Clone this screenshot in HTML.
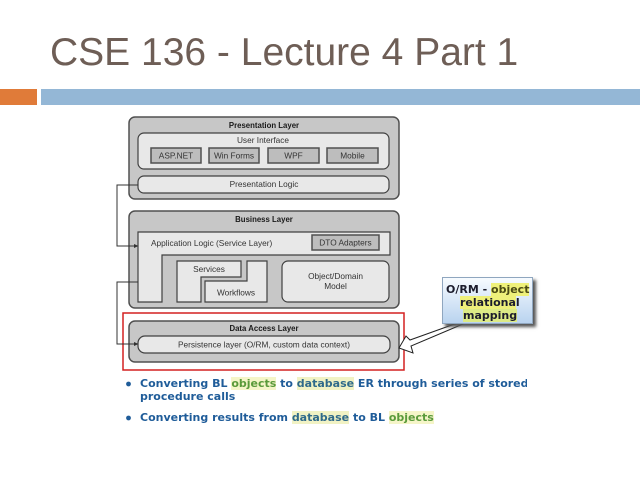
<!DOCTYPE html>
<html><head><meta charset="utf-8"><style>
html,body{margin:0;padding:0;background:#fff;}
#wrap{position:relative;width:640px;height:480px;overflow:hidden;background:#fff;}
svg{position:absolute;left:0;top:0;}
.bl{position:absolute;left:140px;font-family:"DejaVu Sans","Liberation Sans",sans-serif;font-weight:bold;font-size:11px;line-height:12px;color:#1f5c99;white-space:nowrap;}
.ob{color:#5a9a3a;background:#f5f5c8;}
.db{color:#2f6a8a;background:#f1f2c4;}
#call{position:absolute;left:442px;top:277px;width:89px;height:45px;border:1px solid #8fa6bf;background:linear-gradient(to bottom,#f7fbff 0%,#dbe9f8 45%,#b9d3ef 100%);box-shadow:3px 3px 3px #555;overflow:hidden;}
#call div{position:absolute;font-family:"DejaVu Sans","Liberation Sans",sans-serif;font-weight:bold;font-size:11px;line-height:12px;color:#1c1c2c;white-space:nowrap;}
.hl{background:#eef07a;}
</style></head><body><div id="wrap">
<svg width="640" height="480" viewBox="0 0 640 480" xmlns="http://www.w3.org/2000/svg">
<text x="50" y="65" font-family="Liberation Sans, sans-serif" font-size="39" fill="#6e5e56">CSE 136 - Lecture 4 Part 1</text>
<rect x="0" y="89" width="37" height="16" fill="#e07b39"/>
<rect x="41" y="89" width="599" height="16" fill="#94b7d6"/>

<g font-family="Liberation Sans, sans-serif" font-size="8.3" fill="#333" text-anchor="middle">
<!-- Presentation layer -->
<rect x="129" y="117" width="270" height="82" rx="6" fill="#c7c7c7" stroke="#505050" stroke-width="1.5"/>
<text x="264" y="128" font-weight="bold" font-size="7.8" fill="#1a1a1a">Presentation Layer</text>
<rect x="138" y="133" width="251" height="36" rx="6" fill="#e8e8e8" stroke="#404040" stroke-width="1.2"/>
<text x="263" y="143">User Interface</text>
<rect x="151" y="148" width="50" height="15" fill="#bdbdbd" stroke="#505050" stroke-width="1.5"/>
<text x="176" y="158.5">ASP.NET</text>
<rect x="209" y="148" width="50" height="15" fill="#bdbdbd" stroke="#505050" stroke-width="1.5"/>
<text x="234" y="158.5">Win Forms</text>
<rect x="268" y="148" width="51" height="15" fill="#bdbdbd" stroke="#505050" stroke-width="1.5"/>
<text x="293.5" y="158.5">WPF</text>
<rect x="327" y="148" width="51" height="15" fill="#bdbdbd" stroke="#505050" stroke-width="1.5"/>
<text x="352.5" y="158.5">Mobile</text>
<rect x="138" y="176" width="251" height="17" rx="6" fill="#e8e8e8" stroke="#404040" stroke-width="1.2"/>
<text x="264" y="187">Presentation Logic</text>

<!-- Business layer -->
<rect x="129" y="211" width="270" height="97" rx="6" fill="#c7c7c7" stroke="#505050" stroke-width="1.5"/>
<text x="264" y="222" font-weight="bold" font-size="7.8" fill="#1a1a1a">Business Layer</text>
<path d="M138,232 H390 V255 H162 V302 H138 Z" fill="#e8e8e8" stroke="#404040" stroke-width="1.2"/>
<text x="151" y="246" text-anchor="start">Application Logic (Service Layer)</text>
<rect x="312" y="235" width="67" height="15" fill="#bdbdbd" stroke="#505050" stroke-width="1.5"/>
<text x="345.5" y="245.5">DTO Adapters</text>
<path d="M177,261 H241 V277 H201 V302 H177 Z" fill="#e8e8e8" stroke="#404040" stroke-width="1.2"/>
<text x="209" y="272">Services</text>
<path d="M247,261 H267 V302 H205 V281 H247 Z" fill="#e8e8e8" stroke="#404040" stroke-width="1.2"/>
<text x="236" y="295.5">Workflows</text>
<rect x="282" y="261" width="107" height="41" rx="6" fill="#e8e8e8" stroke="#404040" stroke-width="1.2"/>
<text x="335.5" y="279">Object/Domain</text>
<text x="335.5" y="289">Model</text>

<!-- Data access layer -->
<rect x="123" y="313" width="281" height="57" fill="none" stroke="#d42020" stroke-width="1.5"/>
<rect x="129" y="321" width="270" height="41" rx="6" fill="#c7c7c7" stroke="#505050" stroke-width="1.5"/>
<text x="264" y="331" font-weight="bold" font-size="7.8" fill="#1a1a1a">Data Access Layer</text>
<rect x="138" y="336" width="252" height="17" rx="7" fill="#e8e8e8" stroke="#404040" stroke-width="1.2"/>
<text x="264" y="347.5">Persistence layer (O/RM, custom data context)</text>
</g>

<!-- connectors -->
<path d="M138,185 H117 V246 H135" fill="none" stroke="#333" stroke-width="1"/>
<polygon points="134,244 138.5,246 134,248" fill="#333"/>
<path d="M138,282 H117 V344 H135" fill="none" stroke="#333" stroke-width="1"/>
<polygon points="134,342 138.5,344 134,346" fill="#333"/>

<!-- callout arrow -->
<polygon points="463,321 410,340 406,336 399,348 413,353 411,346 463,324" fill="#fff" stroke="#222" stroke-width="1"/>

<!-- bullets -->
<circle cx="128.5" cy="384" r="2.4" fill="#1f5c99"/>
<circle cx="128.5" cy="418" r="2.4" fill="#1f5c99"/>
</svg>

<div id="call">
<div style="left:3px;top:6px;">O/RM - <span class="hl" style="color:#4a4a14;">object</span></div>
<div style="left:17px;top:19px;"><span class="hl">relationa</span>l</div>
<div style="left:20px;top:32px;"><span class="hl" style="background:#dcea86;">mapping</span></div>
</div>

<div class="bl" style="top:377px;width:387px;overflow:hidden;line-height:13px;">Converting BL <span class="ob">objects</span> to <span class="db">database</span> ER through series of stored</div>
<div class="bl" style="top:390px;line-height:13px;">procedure calls</div>
<div class="bl" style="top:411px;line-height:13px;">Converting results from <span class="db">database</span> to BL <span class="ob">objects</span></div>
</div></body></html>
